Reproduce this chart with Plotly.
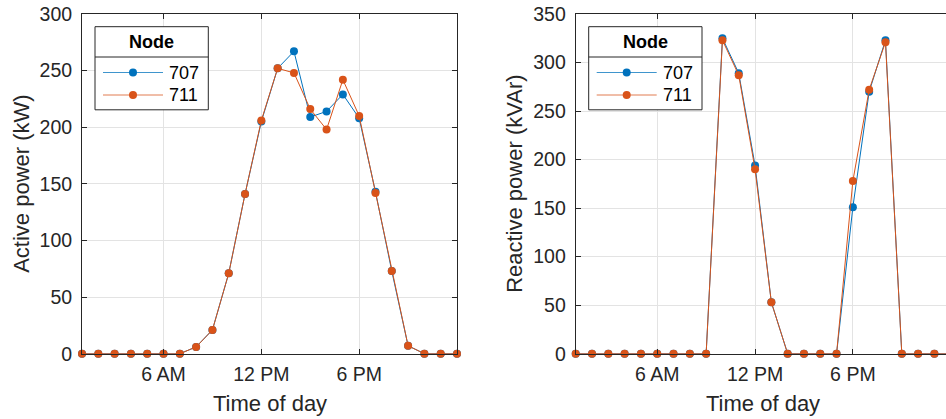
import plotly.graph_objects as go

# Hourly samples, 1:00 through 24:00
hours = list(range(1, 25))
tick_hours = [6, 12, 18]
tick_labels = ["6 AM", "12 PM", "6 PM"]

node_names = ["707", "711"]
node_colors = ["#0072BD", "#D95319"]

# Active power (kW)
p_707 = [0, 0, 0, 0, 0, 0, 0, 6, 21, 71, 141, 205, 252, 267, 209, 214, 229, 208, 143, 73, 7, 0, 0, 0]
p_711 = [0, 0, 0, 0, 0, 0, 0, 6, 21, 71, 141, 206, 252, 248, 216, 198, 242, 210, 142, 73, 7, 0, 0, 0]

# Reactive power (kVAr)
q_707 = [0, 0, 0, 0, 0, 0, 0, 0, 0, 325, 289, 194, 53, 0, 0, 0, 0, 151, 270, 323, 0, 0, 0, 0]
q_711 = [0, 0, 0, 0, 0, 0, 0, 0, 0, 323, 287, 190, 53, 0, 0, 0, 0, 178, 272, 321, 0, 0, 0, 0]

W, H = 946, 419
FONT = "Liberation Sans, Arial, Helvetica, sans-serif"
AXIS_COLOR = "#262626"
GRID_COLOR = "#e3e3e3"
TICK_SIZE = 19.5
TITLE_SIZE = 22

# Axes boxes in pixels
ax_top, ax_bottom = 14.0, 353.7
left_x0, left_x1 = 82.0, 457.0
px_per_hour = (left_x1 - left_x0) / 23.0
right_x0 = 575.7
right_x1_full = right_x0 + 23.0 * px_per_hour  # right axes extends past the page edge
right_range_end = 1 + (W - right_x0) / px_per_hour


def fx(px):
    return px / W


def fy(py):
    return 1 - py / H


fig = go.Figure()

series = [
    ("x", "y", [p_707, p_711]),
    ("x2", "y2", [q_707, q_711]),
]
for xa, ya, vals in series:
    for name, color, v in zip(node_names, node_colors, vals):
        fig.add_trace(go.Scatter(
            x=hours, y=v, name=name, xaxis=xa, yaxis=ya,
            mode="lines+markers",
            line=dict(color=color, width=1),
            marker=dict(color=color, size=8),
            cliponaxis=False,
            showlegend=False,
        ))

common_x = dict(
    tickmode="array", tickvals=tick_hours, ticktext=tick_labels,
    showgrid=True, gridcolor=GRID_COLOR, gridwidth=1,
    showline=True, linecolor=AXIS_COLOR, linewidth=1,
    ticks="inside", ticklen=5, tickcolor=AXIS_COLOR,
    zeroline=False, automargin=False,
    tickfont=dict(family=FONT, size=TICK_SIZE, color=AXIS_COLOR),
    ticklabelstandoff=3,
)
common_y = dict(
    dtick=50, tick0=0,
    showgrid=True, gridcolor=GRID_COLOR, gridwidth=1,
    showline=True, linecolor=AXIS_COLOR, linewidth=1,
    ticks="inside", ticklen=5, tickcolor=AXIS_COLOR,
    zeroline=False, automargin=False,
    tickfont=dict(family=FONT, size=TICK_SIZE, color=AXIS_COLOR),
    ticklabelstandoff=5,
)

ydom = [fy(ax_bottom), fy(ax_top)]

fig.update_layout(
    width=W, height=H,
    margin=dict(l=0, r=0, t=0, b=0),
    paper_bgcolor="white", plot_bgcolor="white",
    font=dict(family=FONT, color=AXIS_COLOR),
    xaxis=dict(common_x, domain=[fx(left_x0), fx(left_x1)], range=[1, 24], mirror="ticks", anchor="y"),
    yaxis=dict(common_y, domain=ydom, range=[0, 300], mirror="ticks", anchor="x"),
    xaxis2=dict(common_x, domain=[fx(right_x0), 1], range=[1, right_range_end], mirror="ticks", anchor="y2"),
    yaxis2=dict(common_y, domain=ydom, range=[0, 350], mirror=False, anchor="x2"),
    showlegend=False,
)

title_font = dict(family=FONT, size=TITLE_SIZE, color=AXIS_COLOR)
y_mid = fy((ax_top + ax_bottom) / 2)

# Axis titles
fig.add_annotation(xref="paper", yref="paper", x=fx((left_x0 + left_x1) / 2), y=fy(403),
                   text="Time of day", showarrow=False, xanchor="center", yanchor="middle",
                   font=title_font)
fig.add_annotation(xref="paper", yref="paper", x=fx((right_x0 + right_x1_full) / 2), y=fy(403),
                   text="Time of day", showarrow=False, xanchor="center", yanchor="middle",
                   font=title_font)
fig.add_annotation(xref="paper", yref="paper", x=fx(22), y=y_mid,
                   text="Active power (kW)", showarrow=False, textangle=-90,
                   xanchor="center", yanchor="middle", font=title_font)
fig.add_annotation(xref="paper", yref="paper", x=fx(515), y=y_mid,
                   text="Reactive power (kVAr)", showarrow=False, textangle=-90,
                   xanchor="center", yanchor="middle", font=title_font)


def add_node_legend(ax_left):
    """Boxed legend with a 'Node' title row, placed inside the axes' upper-left corner."""
    bx0, bx1 = ax_left + 13, ax_left + 126.3
    by0, by1 = 26.7, 109.8
    sep = 57.0
    fig.add_shape(type="rect", xref="paper", yref="paper",
                  x0=fx(bx0), x1=fx(bx1), y0=fy(by1), y1=fy(by0),
                  line=dict(color=AXIS_COLOR, width=1), fillcolor="white", layer="above")
    fig.add_shape(type="line", xref="paper", yref="paper",
                  x0=fx(bx0), x1=fx(bx1), y0=fy(sep), y1=fy(sep),
                  line=dict(color=AXIS_COLOR, width=1), layer="above")
    fig.add_annotation(xref="paper", yref="paper", x=fx((bx0 + bx1) / 2), y=fy(42),
                       text="<b>Node</b>", showarrow=False, xanchor="center", yanchor="middle",
                       font=dict(family=FONT, size=18, color="black"))
    for name, color, yy in zip(node_names, node_colors, [72.5, 95.0]):
        fig.add_shape(type="line", xref="paper", yref="paper",
                      x0=fx(ax_left + 21), x1=fx(ax_left + 81), y0=fy(yy), y1=fy(yy),
                      line=dict(color=color, width=1), opacity=0.75, layer="above")
        cx = ax_left + 51
        fig.add_shape(type="circle", xref="paper", yref="paper",
                      x0=fx(cx - 4), x1=fx(cx + 4), y0=fy(yy + 4), y1=fy(yy - 4),
                      line=dict(color=color, width=0), fillcolor=color, layer="above")
        fig.add_annotation(xref="paper", yref="paper", x=fx(ax_left + 85), y=fy(yy),
                           text=name, showarrow=False, xanchor="left", yanchor="middle",
                           font=dict(family=FONT, size=18, color="black"))


add_node_legend(left_x0)
add_node_legend(right_x0)

fig.write_html("out.html")
